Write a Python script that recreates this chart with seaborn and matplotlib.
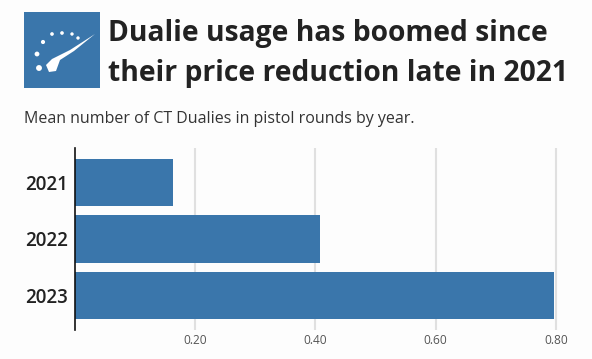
import numpy as np
import pandas as pd
import matplotlib
matplotlib.use('Agg')
import matplotlib.pyplot as plt
import seaborn as sns

years = ['2021', '2022', '2023']
mean_dualies = [0.163, 0.408, 0.797]
x_ticks = [0.2, 0.4, 0.6, 0.8]
x_labels = ['0.20', '0.40', '0.60', '0.80']

sns.set_theme(style='white')
plt.rcParams['font.family'] = ['Open Sans', 'DejaVu Sans']

df = pd.DataFrame({'year': years, 'mean': mean_dualies})

W, H = 592, 359
fig = plt.figure(figsize=(W / 100, H / 100), dpi=100, facecolor='#fdfdfd')

# plot area in pixels: x=0 at 74.5, 0.8 at 556
left, right, top, bottom = 74.5, 566, 148, 330
ax = fig.add_axes([left / W, 1 - bottom / H, (right - left) / W, (bottom - top) / H])
ax.set_facecolor('#fdfdfd')
ax.grid(axis='x', color='#e0e0e0', lw=1.5)
ax.set_axisbelow(True)
sns.barplot(data=df, y='year', x='mean', color='#3a76ab', saturation=1, width=0.84, edgecolor='none', ax=ax)
ax.set_xlim(0, (right - left) / 602)
ax.set_ylim(2.615, -0.615)
ax.set_xticks(x_ticks)
ax.set_xticklabels(x_labels, fontsize=8.6, color='#555555')
ax.set_xlabel('')
ax.set_ylabel('')
ax.tick_params(axis='y', length=0, pad=5, labelsize=13.5, labelcolor='#222222')
ax.tick_params(axis='x', length=0, pad=3)
for lab in ax.get_yticklabels():
    lab.set_fontweight('semibold')
for s in ['top', 'right', 'bottom']:
    ax.spines[s].set_visible(False)
ax.spines['left'].set_color('#111111')
ax.spines['left'].set_linewidth(1.2)

# title and subtitle
fig.text(108 / W, 1 - 34 / H, 'Dualie usage has boomed since', fontsize=20.3, fontweight='bold',
         color='#222222', va='center', ha='left')
fig.text(108 / W, 1 - 73 / H, 'their price reduction late in 2021', fontsize=20.3, fontweight='bold',
         color='#222222', va='center', ha='left')
fig.text(24 / W, 1 - 119 / H, 'Mean number of CT Dualies in pistol rounds by year.', fontsize=11.5,
         color='#333333', va='center', ha='left')

# logo
logo = fig.add_axes([24 / W, 1 - 88 / H, 76 / W, 76 / H])
logo.set_xlim(24, 100)
logo.set_ylim(88, 12)
logo.set_facecolor('#3a76ab')
logo.set_xticks([])
logo.set_yticks([])
for s in logo.spines.values():
    s.set_visible(False)
logo.scatter([39, 37, 43, 52, 62, 72, 78], [68, 54, 42, 34, 33, 34, 38], s=[18, 12, 9, 7, 7, 6, 6], color='white', lw=0)
logo.fill([46, 52, 70, 95, 74, 60, 56, 49], [65, 59, 50, 34, 51, 60, 71, 72], color='white', lw=0)

fig.savefig('out.png', dpi=100, facecolor=fig.get_facecolor())
